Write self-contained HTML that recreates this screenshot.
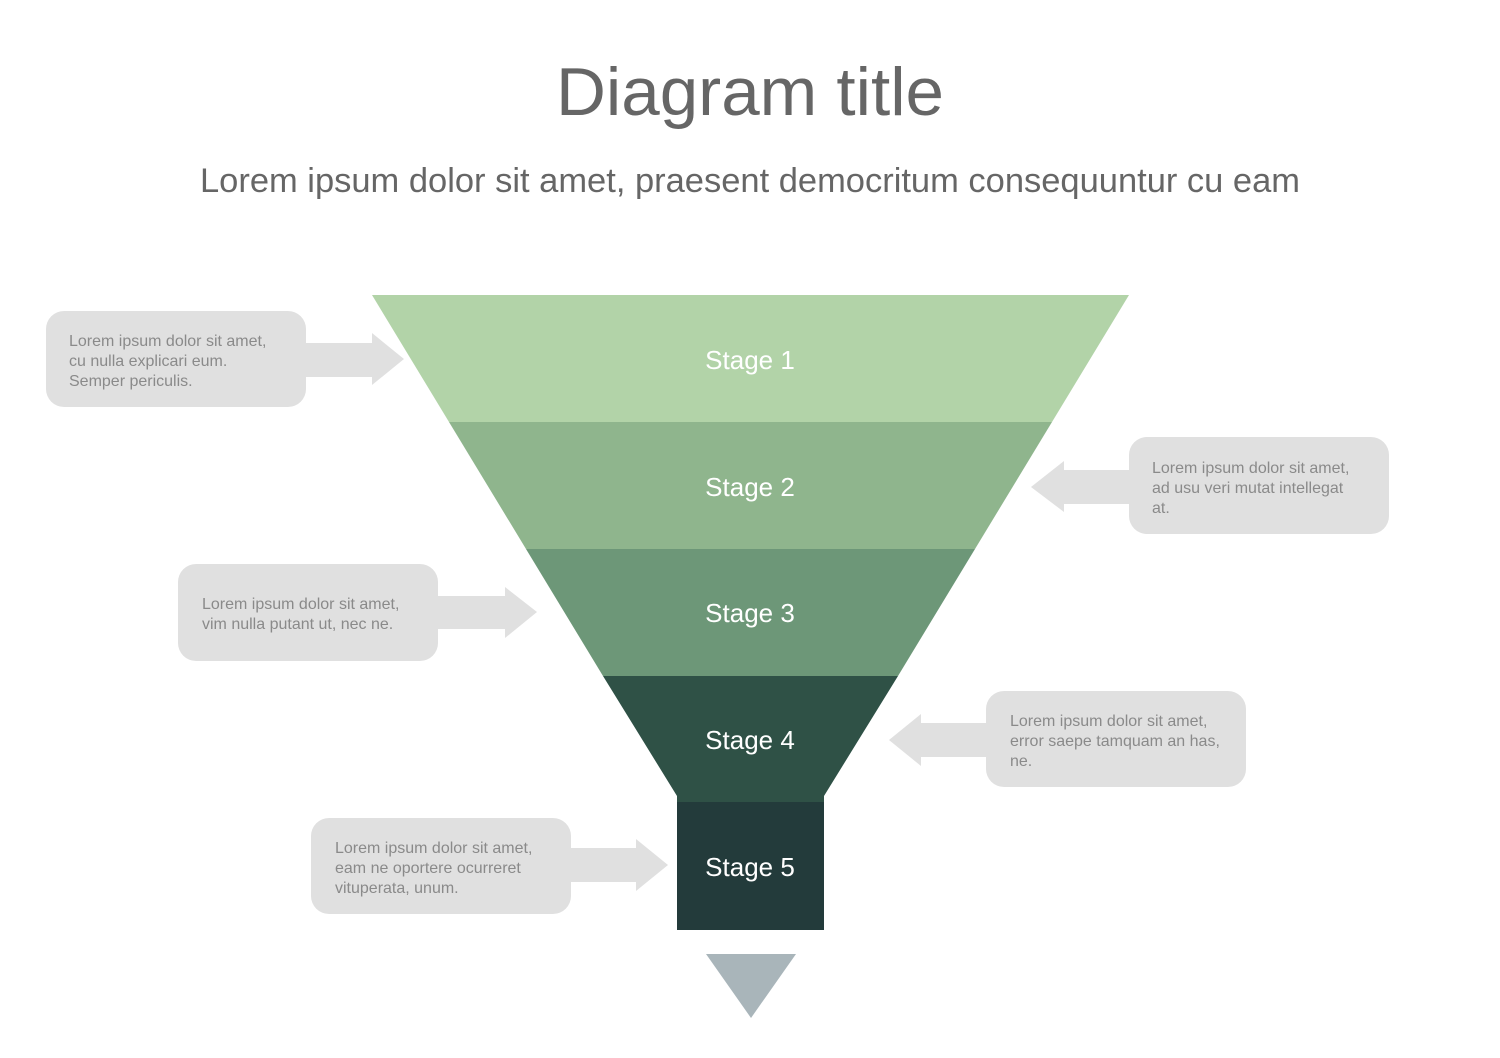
<!DOCTYPE html>
<html><head><style>html,body{margin:0;padding:0;background:#fff;}svg{display:block}</style></head>
<body>
<svg width="1500" height="1058" viewBox="0 0 1500 1058" xmlns="http://www.w3.org/2000/svg" font-family="'Liberation Sans', 'DejaVu Sans', sans-serif">
<text x="750" y="115" text-anchor="middle" font-size="68" fill="#666" textLength="388" lengthAdjust="spacingAndGlyphs">Diagram title</text>
<text x="750" y="192" text-anchor="middle" font-size="34" fill="#666" textLength="1100" lengthAdjust="spacingAndGlyphs">Lorem ipsum dolor sit amet, praesent democritum consequuntur cu eam</text>

<polygon points="372,295 1129,295 1052,422 449,422" fill="#b2d3a8"/>
<polygon points="449,422 1052,422 975,549 526,549" fill="#8fb58d"/>
<polygon points="526,549 975,549 898,676 603,676" fill="#6d9778"/>
<polygon points="603,676 898,676 824,796 824,802 677,802 677,796" fill="#2f5146"/>
<rect x="677" y="802" width="147" height="128" fill="#233b3b"/>
<polygon points="706,954 796,954 751,1018" fill="#a9b5ba"/>

<g font-size="26" fill="#fff" text-anchor="middle">
<text x="750" y="369">Stage 1</text>
<text x="750" y="496">Stage 2</text>
<text x="750" y="622">Stage 3</text>
<text x="750" y="749">Stage 4</text>
<text x="750" y="876">Stage 5</text>
</g>

<g fill="#e0e0e0">
<rect x="46" y="311" width="260" height="96" rx="18"/>
<polygon points="300,343 372,343 372,333 404,359 372,385 372,377 300,377"/>
<rect x="1129" y="437" width="260" height="97" rx="18"/>
<polygon points="1135,470 1064,470 1064,461 1031,487 1064,512 1064,504 1135,504"/>
<rect x="178" y="564" width="260" height="97" rx="18"/>
<polygon points="432,596 505,596 505,587 537,612 505,638 505,629 432,629"/>
<rect x="986" y="691" width="260" height="96" rx="18"/>
<polygon points="992,723 921,723 921,714 889,740 921,766 921,757 992,757"/>
<rect x="311" y="818" width="260" height="96" rx="18"/>
<polygon points="565,848 636,848 636,839 668,865 636,891 636,882 565,882"/>
</g>

<g font-size="16" fill="#8a8a8a">
<text x="69" y="346">Lorem ipsum dolor sit amet,</text>
<text x="69" y="366">cu nulla explicari eum.</text>
<text x="69" y="386">Semper periculis.</text>
<text x="1152" y="473">Lorem ipsum dolor sit amet,</text>
<text x="1152" y="493">ad usu veri mutat intellegat</text>
<text x="1152" y="513">at.</text>
<text x="202" y="609">Lorem ipsum dolor sit amet,</text>
<text x="202" y="629">vim nulla putant ut, nec ne.</text>
<text x="1010" y="726">Lorem ipsum dolor sit amet,</text>
<text x="1010" y="746">error saepe tamquam an has,</text>
<text x="1010" y="766">ne.</text>
<text x="335" y="853">Lorem ipsum dolor sit amet,</text>
<text x="335" y="873">eam ne oportere ocurreret</text>
<text x="335" y="893">vituperata, unum.</text>
</g>
</svg>
</body></html>
